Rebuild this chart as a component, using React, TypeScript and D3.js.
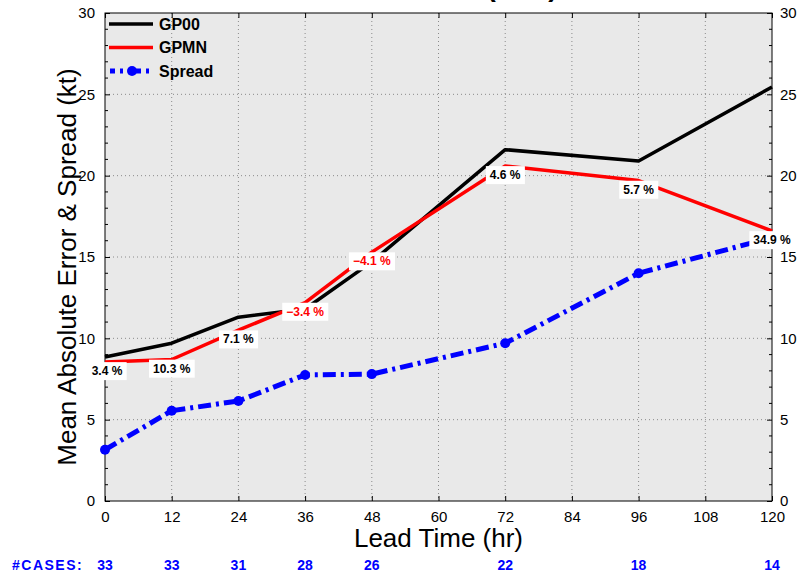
import React, { useEffect, useRef } from "react";
import * as d3 from "d3";

// forecast lead times (hr)
const leadTimes = [0, 12, 24, 36, 48, 72, 96, 120];
// mean absolute error (kt)
const gp00 = [8.85, 9.7, 11.3, 11.8, 14.7, 21.6, 20.9, 25.45];
const gpmn = [8.55, 8.7, 10.5, 12.2, 15.3, 20.6, 19.7, 16.6];
// ensemble spread (kt)
const spread = [3.15, 5.55, 6.15, 7.75, 7.8, 9.7, 14.0, 16.2];
// improvement of GPMN over GP00
const improvement = ["3.4", "10.3", "7.1", "\u22123.4", "\u22124.1", "4.6", "5.7", "34.9"];
const cases = [33, 33, 31, 28, 26, 22, 18, 14];
const xTickValues = [0, 12, 24, 36, 48, 60, 72, 84, 96, 108, 120];
const yTickValues = [0, 5, 10, 15, 20, 25, 30];

const App = () => {
  const ref = useRef<SVGSVGElement>(null);

  useEffect(() => {
    const width = 804;
    const height = 574;
    const margin = { top: 13, left: 105, bottom: 73, right: 32 };
    const font = "'Liberation Sans', Arial, Helvetica, sans-serif";

    const svg = d3.select(ref.current);
    svg.selectAll("*").remove();

    const x = d3.scaleLinear().domain([0, 120]).range([margin.left, width - margin.right]);
    const y = d3.scaleLinear().domain([0, 30]).range([height - margin.bottom, margin.top]);
    const [x0, x1] = x.range();
    const [yb, yt] = y.range();

    // title (cut off at the top of the figure, as in the original)
    svg.append("text")
      .attr("x", 522)
      .attr("y", -4)
      .attr("text-anchor", "middle")
      .attr("font-family", font)
      .attr("font-weight", "bold")
      .attr("font-size", 28)
      .text("(ATL)");

    // plot background
    svg.append("rect")
      .attr("x", x0).attr("y", yt)
      .attr("width", x1 - x0).attr("height", yb - yt)
      .attr("fill", "#e9e9e9");

    // dotted grid
    const grid = svg.append("g").attr("stroke", "#8a8a8a").attr("stroke-width", 1).attr("stroke-dasharray", "1,3");
    grid.selectAll(".gx").data(xTickValues.slice(1, -1)).enter().append("line")
      .attr("x1", (d) => x(d)).attr("x2", (d) => x(d))
      .attr("y1", yt).attr("y2", yb);
    grid.selectAll(".gy").data(yTickValues.slice(1, -1)).enter().append("line")
      .attr("x1", x0).attr("x2", x1)
      .attr("y1", (d) => y(d)).attr("y2", (d) => y(d));

    // axes with inward ticks on all sides
    const tickFont = (g) => g.selectAll("text").attr("font-family", font).attr("font-size", 15).attr("fill", "#000");
    svg.append("g")
      .attr("transform", `translate(${x0},0)`)
      .call(d3.axisLeft(y).tickValues(yTickValues).tickSize(-5).tickPadding(10).tickFormat(d3.format("d")))
      .call((g) => g.select(".domain").remove())
      .call(tickFont);
    svg.append("g")
      .attr("transform", `translate(${x1},0)`)
      .call(d3.axisRight(y).tickValues(yTickValues).tickSize(-5).tickPadding(8).tickFormat(d3.format("d")))
      .call((g) => g.select(".domain").remove())
      .call(tickFont);
    svg.append("g")
      .attr("transform", `translate(0,${yb})`)
      .call(d3.axisBottom(x).tickValues(xTickValues).tickSize(-5).tickPadding(10).tickFormat(d3.format("d")))
      .call((g) => g.select(".domain").remove())
      .call(tickFont);
    svg.append("g")
      .attr("transform", `translate(0,${yt})`)
      .call(d3.axisTop(x).tickValues(xTickValues).tickSize(-5).tickFormat(() => ""))
      .call((g) => g.select(".domain").remove());
    // minor y ticks
    const minor = d3.range(0, 31).filter((v) => v % 5 !== 0);
    svg.append("g").attr("stroke", "#000").selectAll("line").data(minor).enter().append("line")
      .attr("x1", x0).attr("x2", x0 + 3).attr("y1", (d) => y(d)).attr("y2", (d) => y(d));
    svg.append("g").attr("stroke", "#000").selectAll("line").data(minor).enter().append("line")
      .attr("x1", x1).attr("x2", x1 - 3).attr("y1", (d) => y(d)).attr("y2", (d) => y(d));

    svg.append("rect")
      .attr("x", x0).attr("y", yt)
      .attr("width", x1 - x0).attr("height", yb - yt)
      .attr("fill", "none").attr("stroke", "#000").attr("stroke-width", 1);

    // series
    const line = d3.line<number>().x((d, i) => x(leadTimes[i])).y((d) => y(d));
    svg.append("path").datum(gp00).attr("d", line)
      .attr("fill", "none").attr("stroke", "#000").attr("stroke-width", 3.5).attr("stroke-linejoin", "round");
    svg.append("path").datum(gpmn).attr("d", line)
      .attr("fill", "none").attr("stroke", "#ff0000").attr("stroke-width", 3.5).attr("stroke-linejoin", "round");
    svg.append("path").datum(spread).attr("d", line)
      .attr("fill", "none").attr("stroke", "#0000ff").attr("stroke-width", 5)
      .attr("stroke-dasharray", "13,5,3,5");
    svg.append("g").selectAll("circle").data(spread).enter().append("circle")
      .attr("cx", (d, i) => x(leadTimes[i])).attr("cy", (d) => y(d))
      .attr("r", 5).attr("fill", "#0000ff");

    // improvement labels
    const labels = svg.append("g");
    improvement.forEach((txt, i) => {
      const gl = labels.append("g");
      const rect = gl.append("rect").attr("fill", "#fff");
      const t = gl.append("text")
        .attr("x", x(leadTimes[i]) + (i === 0 ? 2 : 0))
        .attr("y", y(gpmn[i]) + 9)
        .attr("dy", "0.35em")
        .attr("text-anchor", "middle")
        .attr("font-family", font)
        .attr("font-weight", "bold")
        .attr("font-size", 12)
        .attr("fill", txt.startsWith("\u2212") ? "#ff0000" : "#000")
        .text(`${txt} %`);
      const b = (t.node() as SVGTextElement).getBBox();
      rect.attr("x", b.x - 4).attr("y", b.y - 2).attr("width", b.width + 8).attr("height", b.height + 4);
    });

    // legend
    const legendItems = [
      { name: "GP00", color: "#000", width: 3.5, dash: null, marker: false },
      { name: "GPMN", color: "#ff0000", width: 3.5, dash: null, marker: false },
      { name: "Spread", color: "#0000ff", width: 5, dash: "13,5,3,5", marker: true },
    ];
    const lg = svg.append("g").selectAll("g").data(legendItems).enter().append("g")
      .attr("transform", (d, i) => `translate(109,${24 + i * 23.5})`);
    lg.append("line")
      .attr("x1", (d) => (d.marker ? 1 : 0)).attr("x2", 44)
      .attr("stroke", (d) => d.color).attr("stroke-width", (d) => d.width)
      .attr("stroke-dasharray", (d) => d.dash)
      .attr("stroke-dashoffset", (d) => (d.marker ? 8 : 0));
    lg.filter((d) => d.marker).append("circle").attr("cx", 23).attr("r", 5).attr("fill", "#0000ff");
    lg.append("text")
      .attr("x", 50).attr("dy", "0.36em")
      .attr("font-family", font).attr("font-weight", "bold").attr("font-size", 16)
      .text((d) => d.name);

    // axis labels
    svg.append("text")
      .attr("x", (x0 + x1) / 2).attr("y", 547)
      .attr("text-anchor", "middle")
      .attr("font-family", font).attr("font-size", 26)
      .text("Lead Time (hr)");
    svg.append("text")
      .attr("transform", `translate(76,${(yt + yb) / 2 + 10}) rotate(-90)`)
      .attr("text-anchor", "middle")
      .attr("font-family", font).attr("font-size", 26)
      .text("Mean Absolute Error & Spread (kt)");

    // number of cases
    svg.append("text")
      .attr("x", 12).attr("y", 570)
      .attr("font-family", font).attr("font-weight", "bold").attr("font-size", 14)
      .attr("letter-spacing", 1.5)
      .attr("fill", "#0000ff")
      .text("#CASES:");
    svg.append("g").selectAll("text").data(cases).enter().append("text")
      .attr("x", (d, i) => x(leadTimes[i])).attr("y", 570)
      .attr("text-anchor", "middle")
      .attr("font-family", font).attr("font-weight", "bold").attr("font-size", 14)
      .attr("fill", "#0000ff")
      .text((d) => d);
  }, []);

  return (
    <div style={{ position: "absolute", left: 0, top: 0 }}>
      <svg ref={ref} width={804} height={574} style={{ display: "block", background: "#fff" }} />
    </div>
  );
};

export default App;
